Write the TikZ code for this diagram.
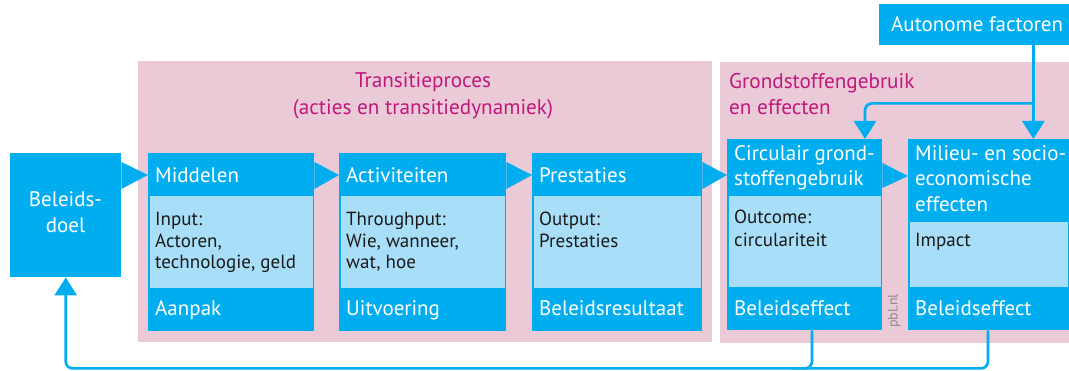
\documentclass[tikz,border=0pt]{standalone}
\usepackage{fontspec}
\setmainfont{PT Sans}
\usetikzlibrary{calc,arrows.meta}
\definecolor{dk}{HTML}{00AEEF}
\definecolor{lt}{HTML}{A8DEF8}
\definecolor{pk}{HTML}{EBCAD7}
\definecolor{mg}{HTML}{C2177C}
\definecolor{gr}{HTML}{8C8C8C}
\definecolor{tx}{HTML}{1A1A1A}
\begin{document}
\begin{tikzpicture}[x=1pt,y=-1pt,
  region/.style={fill=pk, inner sep=0, anchor=north west},
  dkbox/.style={fill=dk, inner sep=0, anchor=north west},
  ltbox/.style={fill=lt, inner sep=0, anchor=north west},
  hd/.style={text=white, font=\fontsize{21}{25}\selectfont, inner sep=0, anchor=base west},
  bd/.style={text=tx, font=\fontsize{19}{22}\selectfont, inner sep=0, anchor=base west},
  ttl/.style={text=mg, font=\fontsize{21.2}{25}\selectfont, inner sep=0},
  conn/.style={draw=dk, line width=2.7pt, rounded corners=7pt},
  tip/.style={-{Triangle[width=22pt,length=18pt]}},
  tri/.style={fill=dk}]
\useasboundingbox (0,0) rectangle (1069,371);
% regions
\node[region, minimum width=574pt, minimum height=281pt] (reg1) at (138,61) {};
\node[region, minimum width=349pt, minimum height=281pt] (reg2) at (720,62) {};
% boxes
\node[dkbox, minimum width=111pt, minimum height=124pt] (doel) at (10,153) {};
\node[dkbox, minimum width=166pt, minimum height=178pt] (mid) at (148,153) {};
\node[ltbox, minimum width=163pt, minimum height=92pt] (midl) at (149.5,196) {};
\node[dkbox, minimum width=167pt, minimum height=178pt] (act) at (339,153) {};
\node[ltbox, minimum width=164pt, minimum height=92pt] (actl) at (340.5,196) {};
\node[dkbox, minimum width=170pt, minimum height=178pt] (pre) at (532,153) {};
\node[ltbox, minimum width=167pt, minimum height=92pt] (prel) at (533.5,196) {};
\node[dkbox, minimum width=155pt, minimum height=191pt] (cir) at (727,139) {};
\node[ltbox, minimum width=152pt, minimum height=91pt] (cirl) at (728.5,196) {};
\node[dkbox, minimum width=161pt, minimum height=191pt] (mil) at (908,139) {};
\node[ltbox, minimum width=158pt, minimum height=65pt] (mill) at (909.5,222) {};
\node[dkbox, minimum width=190pt, minimum height=41pt] (auto) at (879,4) {};
% triangles between boxes
\fill[tri] ([yshift=-9pt]doel.north east) -- ([yshift=-22pt]mid.north west) -- ([yshift=-36pt]doel.north east) -- cycle;
\fill[tri] ([yshift=-9pt]mid.north east) -- ([yshift=-22pt]act.north west) -- ([yshift=-36pt]mid.north east) -- cycle;
\fill[tri] ([yshift=-9pt]act.north east) -- ([yshift=-22pt]pre.north west) -- ([yshift=-36pt]act.north east) -- cycle;
\fill[tri] ([yshift=-9pt]pre.north east) -- ([yshift=-36pt]cir.north west) -- ([yshift=-36pt]pre.north east) -- cycle;
\fill[tri] ([yshift=-24pt]cir.north east) -- ([yshift=-37pt]mil.north west) -- ([yshift=-49pt]cir.north east) -- cycle;
% connectors
\draw[conn,tip] ($(auto.south east)+(-36,0)$) -- ($(mil.north east)+(-36,0)$);
\draw[conn,tip] ($(auto.south east)+(-36,58)$) -| ($(cir.north west)+(138,0)$);
\draw[conn,tip] ($(mil.south west)+(80,0)$) -- ++(0,38) -| (doel.south);
\draw[conn] ($(cir.south west)+(85,0)$) -- ++(0,38) -- ++(-20,0);
% texts
\node[hd, anchor=base] (d1) at (65.5,207) {Beleids-};
\node[hd, anchor=base] (d2) at (65.5,233) {doel};
\node[hd] (m1) at (155,183) {Middelen};
\node[bd] (m2) at (155,226) {Input:};
\node[bd] (m3) at (155,247.5) {Actoren,};
\node[bd] (m4) at (155,269) {technologie, geld};
\node[hd] (m5) at (155,316) {Aanpak};
\node[hd] (a1) at (346,183) {Activiteiten};
\node[bd] (a2) at (346,226) {Throughput:};
\node[bd] (a3) at (346,247.5) {Wie, wanneer,};
\node[bd] (a4) at (346,269) {wat, hoe};
\node[hd] (a5) at (346,316) {Uitvoering};
\node[hd] (p1) at (539,183) {Prestaties};
\node[bd] (p2) at (539,226) {Output:};
\node[bd] (p3) at (539,247.5) {Prestaties};
\node[hd] (p5) at (539,316) {Beleidsresultaat};
\node[hd] (c1) at (734,161) {Circulair grond-};
\node[hd] (c2) at (734,186) {stoffengebruik};
\node[bd] (c3) at (734,224) {Outcome:};
\node[bd] (c4) at (734,247) {circulariteit};
\node[hd] (c5) at (734,316) {Beleidseffect};
\node[hd] (e1) at (915,161) {Milieu- en socio-};
\node[hd] (e2) at (915,186) {economische};
\node[hd] (e3) at (915,212) {effecten};
\node[bd] (e4) at (915,247) {Impact};
\node[hd] (e5) at (915,316) {Beleidseffect};
\node[hd] (f1) at (891,32) {Autonome factoren};
\node[ttl, anchor=base] (r1) at (423,88) {Transitieproces};
\node[ttl, anchor=base] (r2) at (423,115) {(acties en transitiedynamiek)};
\node[ttl, anchor=base west] (g1) at (729,89) {Grondstoffengebruik};
\node[ttl, anchor=base west] (g2) at (729,115) {en effecten};
\node[rotate=90, text=gr, font=\fontsize{14}{14}\selectfont, inner sep=0] (pbl) at (894,311) {pbl.nl};
\end{tikzpicture}
\end{document}
